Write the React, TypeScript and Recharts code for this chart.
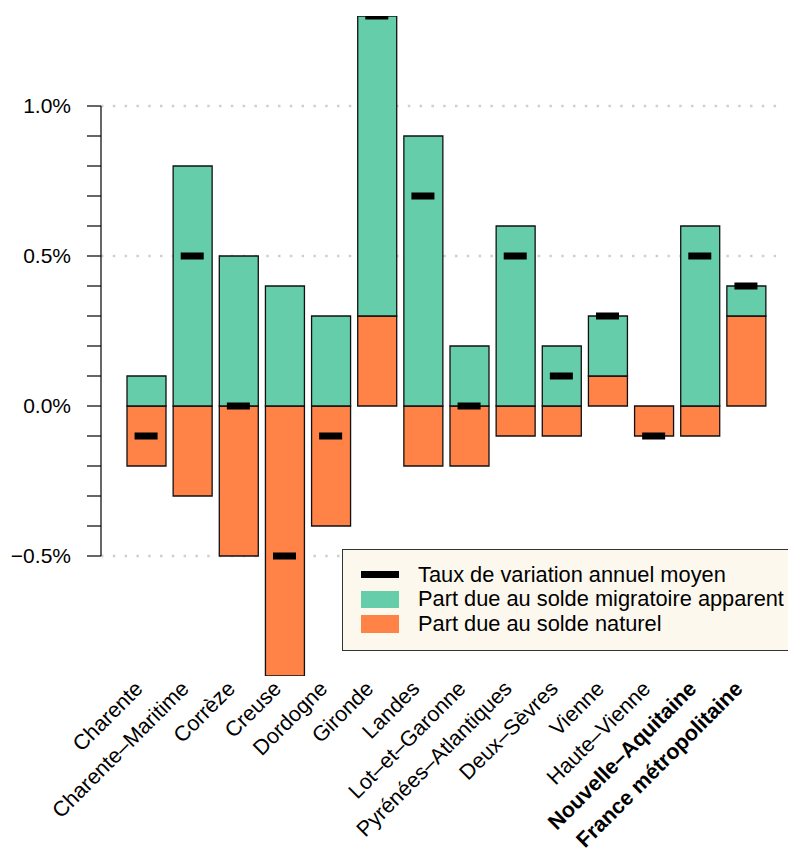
import React from 'react';
import { ComposedChart, Bar, Line, XAxis, YAxis, CartesianGrid, ReferenceLine, Legend } from 'recharts';

const categories = [
  'Charente',
  'Charente–Maritime',
  'Corrèze',
  'Creuse',
  'Dordogne',
  'Gironde',
  'Landes',
  'Lot–et–Garonne',
  'Pyrénées–Atlantiques',
  'Deux–Sèvres',
  'Vienne',
  'Haute–Vienne',
  'Nouvelle–Aquitaine',
  'France métropolitaine',
];
const soldeNaturel = [-0.2, -0.3, -0.5, -0.9, -0.4, 0.3, -0.2, -0.2, -0.1, -0.1, 0.1, -0.1, -0.1, 0.3];
const soldeMigratoire = [0.1, 0.8, 0.5, 0.4, 0.3, 1.0, 0.9, 0.2, 0.6, 0.2, 0.2, 0.0, 0.6, 0.1];
const tauxVariation = [-0.1, 0.5, 0.0, -0.5, -0.1, 1.3, 0.7, 0.0, 0.5, 0.1, 0.3, -0.1, 0.5, 0.4];
const boldCategories = ['Nouvelle–Aquitaine', 'France métropolitaine'];
const yTicks = [-0.5, -0.4, -0.3, -0.2, -0.1, 0, 0.1, 0.2, 0.3, 0.4, 0.5, 0.6, 0.7, 0.8, 0.9, 1.0];
const yLabelTicks = [-0.5, 0, 0.5, 1.0];
const gridValues = [-0.5, 0.5, 1.0];
const yDomain = [-0.9, 1.3];
const legendLabels = [
  'Taux de variation annuel moyen',
  'Part due au solde migratoire apparent',
  'Part due au solde naturel',
];

const COLOR_MIG = '#66CDAA';
const COLOR_NAT = '#FF8247';
const FONT = '"Liberation Sans", Arial, Helvetica, sans-serif';

const data = categories.map((name, i) => ({
  name,
  naturel: soldeNaturel[i],
  migratoire: soldeMigratoire[i],
  total: tauxVariation[i],
}));

const formatY = (v: number) => {
  const isLabel = yLabelTicks.some((t) => Math.abs(t - v) < 1e-9);
  if (!isLabel) return '';
  const s = Math.abs(v).toFixed(1) + '%';
  return v < -1e-9 ? '−' + s : s;
};

const XTick = (props: any) => {
  const { x, y, payload } = props;
  const bold = boldCategories.includes(payload.value);
  return (
    <g transform={`translate(${x - 2},${y})`}>
      <text
        x={0}
        y={0}
        transform="rotate(-45)"
        textAnchor="end"
        fontSize={21.5}
        fontFamily={FONT}
        fontWeight={bold ? 'bold' : 'normal'}
        fill="#000"
      >
        {payload.value}
      </text>
    </g>
  );
};

const MarkerDot = (props: any) => {
  const { cx, cy, index } = props;
  if (cx == null || cy == null) return null;
  return <rect key={`m-${index}`} x={cx - 11.5} y={cy - 3.5} width={23} height={7} fill="#000" />;
};

const LegendBox = () => {
  const samples = [
    <div style={{ width: 38, height: 7, background: '#000' }} />,
    <div style={{ width: 38, height: 17.5, background: COLOR_MIG }} />,
    <div style={{ width: 38, height: 17.5, background: COLOR_NAT }} />,
  ];
  return (
    <div
      style={{
        background: '#FDF8EE',
        border: '1.5px solid #333',
        padding: '12.5px 0 13.5px 0',
        fontFamily: FONT,
        fontSize: 21.8,
        color: '#000',
        boxSizing: 'border-box',
      }}
    >
      {legendLabels.map((label, i) => (
        <div key={label} style={{ display: 'flex', alignItems: 'center', height: 24.5 }}>
          <div style={{ width: 38, marginLeft: 18, marginRight: 19, display: 'flex', alignItems: 'center' }}>
            {samples[i]}
          </div>
          <span style={{ whiteSpace: 'nowrap', lineHeight: '24.5px' }}>{label}</span>
        </div>
      ))}
    </div>
  );
};

export default function App() {
  return (
    <div
      style={{
        position: 'absolute',
        left: 0,
        top: 0,
        width: 788,
        height: 850,
        overflow: 'hidden',
        background: '#fff',
        fontFamily: FONT,
      }}
    >
      <ComposedChart
        width={788}
        height={850}
        data={data}
        stackOffset="sign"
        margin={{ top: 16, right: 8, bottom: 4, left: 0 }}
      >
        <CartesianGrid
          yAxisId="g"
          vertical={false}
          syncWithTicks
          stroke="#cfcfcf"
          strokeWidth={2.5}
          strokeDasharray="2.5 9.3"
        />
        <XAxis
          dataKey="name"
          height={170}
          interval={0}
          tickSize={0}
          tickMargin={14}
          axisLine={false}
          tickLine={false}
          padding={{ left: 22, right: 11 }}
          tick={<XTick />}
        />
        <XAxis xAxisId="n" type="number" domain={[0, 1]} hide />
        <YAxis yAxisId="g" type="number" domain={yDomain} allowDataOverflow ticks={gridValues} interval={0} hide />
        <YAxis
          type="number"
          domain={yDomain}
          allowDataOverflow
          ticks={yTicks}
          interval={0}
          width={101}
          tickSize={14}
          tickMargin={16}
          axisLine={false}
          tickLine={{ stroke: '#000', strokeWidth: 1.2 }}
          tickFormatter={formatY}
          tick={{ fontSize: 21, fill: '#000', fontFamily: FONT }}
        />
        <ReferenceLine
          xAxisId="n"
          segment={[
            { x: 0, y: -0.5 },
            { x: 0, y: 1.0 },
          ]}
          stroke="#000"
          strokeWidth={1.2}
        />
        <Bar dataKey="naturel" stackId="a" fill={COLOR_NAT} stroke="#111" strokeWidth={1.3} barSize={39} isAnimationActive={false} />
        <Bar dataKey="migratoire" stackId="a" fill={COLOR_MIG} stroke="#111" strokeWidth={1.3} barSize={39} isAnimationActive={false} />
        <Line
          dataKey="total"
          stroke="none"
          dot={<MarkerDot />}
          activeDot={false}
          legendType="none"
          isAnimationActive={false}
        />
        <Legend
          layout="horizontal"
          verticalAlign="middle"
          content={<LegendBox />}
          wrapperStyle={{ position: 'absolute', left: 342, top: 549, width: 470, height: 103 }}
        />
      </ComposedChart>
    </div>
  );
}
